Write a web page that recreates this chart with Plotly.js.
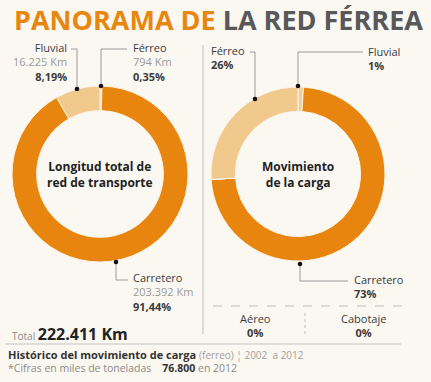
<!DOCTYPE html>
<html><head><meta charset="utf-8">
<script src="https://cdn.plot.ly/plotly-3.0.1.min.js"></script>
<style>html,body{margin:0;padding:0;background:#FBF8F2;}#c{width:431px;height:382px;}</style>
</head><body><div id="c"></div>
<script>
// Longitud total de red de transporte
const lenCategories = ["Férreo", "Carretero", "Fluvial"];
const lenKm = ["794 Km", "203.392 Km", "16.225 Km"];
const lenPct = [0.35, 91.44, 8.19];
const lenPctLabels = ["0,35%", "91,44%", "8,19%"];
// Movimiento de la carga
const cargaCategories = ["Fluvial", "Carretero", "Aéreo", "Cabotaje", "Férreo"];
const cargaPct = [1, 73, 0, 0, 26];
const totalKm = "222.411 Km";
const carga2012 = "76.800";

const W = 431, H = 382;
const px = x => x / W, py = y => 1 - y / H;
const DARK = "#E8850E", LIGHT = "#F2C98C";
const colorsLen = ["#F2CE95", DARK, LIGHT];
const colorsCarga = ["#F2CE95", DARK, LIGHT, LIGHT, LIGHT];
const F = "Open Sans, sans-serif";

const traces = [
  {type: "pie", labels: lenCategories, values: lenPct, hole: 0.72, sort: false, direction: "clockwise",
   marker: {colors: colorsLen, line: {color: "#FBF3E6", width: 1}}, textinfo: "none", hoverinfo: "label+percent",
   domain: {x: [px(12), px(188)], y: [py(262), py(86)]}},
  {type: "pie", labels: cargaCategories, values: cargaPct, hole: 0.72, sort: false, direction: "clockwise",
   marker: {colors: colorsCarga, line: {color: "#FBF3E6", width: 1}}, textinfo: "none", hoverinfo: "label+percent",
   domain: {x: [px(211), px(385)], y: [py(261), py(87)]}}
];

function ann(x, y, text, opts) {
  return Object.assign({xref: "paper", yref: "paper", x: px(x), y: py(y), text: text, showarrow: false,
    xanchor: "left", yanchor: "middle", font: {family: F, size: 11, color: "#3b3b3b"}}, opts || {});
}
function line(x0, y0, x1, y1, o) {
  return Object.assign({type: "line", xref: "paper", yref: "paper", x0: px(x0), y0: py(y0), x1: px(x1), y1: py(y1),
    line: {color: "#9a9a9a", width: 1}}, o || {});
}
function dot(x, y) {
  const r = 2.3;
  return {type: "circle", xref: "paper", yref: "paper", x0: px(x - r), x1: px(x + r), y0: py(y + r), y1: py(y - r),
    fillcolor: "#111", line: {width: 0}};
}
const lab = (s) => `<span style="color:#3b3b3b">${s}</span>`;
const km = (s) => `<span style="color:#9a9a9a">${s}</span>`;
const pc = (s) => `<b>${s}</b>`;

const annotations = [
  ann(12, 20, `<b><span style="color:#E8870F">PANORAMA DE</span> <span style="color:#58585a">LA RED FÉRREA</span></b>`, {font: {family: F, size: 27}}),
  // left pie labels
  ann(69, 62, `${lab(lenCategories[2])}<br>${km(lenKm[2])}<br>${pc(lenPctLabels[2])}`, {xanchor: "right", align: "right"}),
  ann(131, 62, `${lab(lenCategories[0])}<br>${km(lenKm[0])}<br>${pc(lenPctLabels[0])}`, {align: "left"}),
  ann(131, 292, `${lab(lenCategories[1])}<br>${km(lenKm[1])}<br>${pc(lenPctLabels[1])}`, {align: "left"}),
  ann(100, 174, `<b>Longitud total de<br>red de transporte</b>`, {xanchor: "center", align: "center", font: {family: F, size: 12, color: "#222"}}),
  // right pie labels
  ann(209, 57, `${lab(cargaCategories[4])}<br>${pc(cargaPct[4] + "%")}`, {align: "left"}),
  ann(366, 59, `${lab(cargaCategories[0])}<br>${pc(cargaPct[0] + "%")}`, {align: "left"}),
  ann(352, 286, `${lab(cargaCategories[1])}<br>${pc(cargaPct[1] + "%")}`, {align: "left"}),
  ann(255, 325, `${lab(cargaCategories[2])}<br>${pc(cargaPct[2] + "%")}`, {xanchor: "center", align: "center"}),
  ann(363, 325, `${lab(cargaCategories[3])}<br>${pc(cargaPct[3] + "%")}`, {xanchor: "center", align: "center"}),
  ann(298, 174, `<b>Movimiento<br>de la carga</b>`, {xanchor: "center", align: "center", font: {family: F, size: 12, color: "#222"}}),
  // total
  ann(10, 334, `<span style="font-size:10px;color:#8a8a8a">Total </span><b>${totalKm}</b>`, {font: {family: F, size: 16, color: "#222"}}),
  ann(6, 354, `<b>Histórico del movimiento de carga</b> <span style="font-size:10px;color:#a0a0a0">(ferreo) ¦ 2002  a 2012</span>`, {font: {family: F, size: 11, color: "#333"}}),
  ann(6, 368, `<span style="color:#8a8a8a">*Cifras en miles de toneladas </span>   <b style="color:#333">${carga2012}</b><span style="color:#8a8a8a"> en 2012</span>`, {font: {family: F, size: 10.5, color: "#8a8a8a"}})
];

const shapes = [
  line(203, 45, 203, 334, {line: {color: "#bdbdbd", width: 1}}),
  line(5, 344, 401, 344, {line: {color: "#c4c4c4", width: 1}}),
  line(213, 306, 403, 306, {line: {color: "#bdbdbd", width: 1, dash: "dash"}}),
  line(305, 313, 305, 334, {line: {color: "#bdbdbd", width: 1, dash: "dot"}}),
  // left leaders
  line(71, 49, 77, 49), line(77, 49, 77, 89), dot(77, 89),
  line(101, 49, 127, 49), line(101, 49, 101, 86), dot(101, 86),
  line(116, 262, 116, 280), line(116, 280, 128, 280), dot(116, 262),
  // right leaders
  line(250, 52, 255, 52), line(255, 52, 255, 99), dot(255, 99),
  line(298, 52, 363, 52), line(298, 52, 298, 86), dot(298, 86),
  line(300, 264, 300, 281), line(300, 281, 348, 281), dot(300, 264)
];

Plotly.newPlot("c", traces, {
  width: W, height: H, margin: {l: 0, r: 0, t: 0, b: 0}, showlegend: false,
  paper_bgcolor: "#FBF8F2", plot_bgcolor: "#FBF8F2",
  annotations: annotations, shapes: shapes
}, {staticPlot: true});
</script></body></html>
